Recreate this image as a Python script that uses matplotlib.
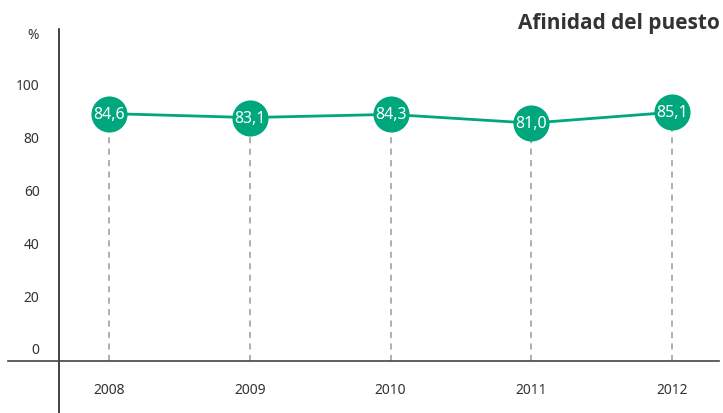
import matplotlib
matplotlib.use("Agg")
import matplotlib.pyplot as plt
import matplotlib.transforms as mtransforms

# Data
years = [2008, 2009, 2010, 2011, 2012]
afinidad = [84.6, 83.1, 84.3, 81.0, 85.1]
afinidad_labels = ["84,6", "83,1", "84,3", "81,0", "85,1"]
y_ticks = [0, 20, 40, 60, 80, 100]

green = "#00a77d"
text_col = "#333333"
num_font = "Noto Sans"

fig = plt.figure(figsize=(7.23, 4.14), dpi=100)
ax = fig.add_axes([0, 0, 1, 1])
ax.set_facecolor("none")

# pixel-matched limits
ax.set_xlim(2007.2256, 2012.3623)
ax.set_ylim(-28.8, 128.0)

x_axis_at = 2007.645
y_axis_at = -9.1

# dashed drop lines
ax.vlines(years, y_axis_at, afinidad, colors="#9a9a9a", linestyles=(0, (4, 3.5)), linewidth=1.1, zorder=1)

# line + markers
ax.plot(years, afinidad, color=green, linewidth=2.0, zorder=2)
ax.plot(years, afinidad, "o", color=green, markersize=26, markeredgewidth=0, zorder=3)
for x, y, lab in zip(years, afinidad, afinidad_labels):
    ax.text(x, y, lab, color="white", fontsize=11.5, family=num_font,
            ha="center", va="center", zorder=4)

# axes lines
for s in ["top", "right"]:
    ax.spines[s].set_visible(False)
ax.spines["left"].set_position(("data", x_axis_at))
ax.spines["bottom"].set_position(("data", y_axis_at))
ax.spines["left"].set_bounds(-28.8, 116.7)
ax.spines["bottom"].set_bounds(2007.2825, 2012.3339)
ax.spines["left"].set_color("#222222")
ax.spines["bottom"].set_color("#444444")
ax.spines["left"].set_linewidth(1.2)
ax.spines["bottom"].set_linewidth(1.2)

ax.set_xticks(years)
ax.set_xticklabels([str(y) for y in years])
ax.set_yticks(y_ticks)
ax.set_yticklabels([str(v) for v in y_ticks])
ax.tick_params(axis="x", length=0, pad=15, labelsize=10, labelcolor=text_col)
ax.tick_params(axis="y", length=0, pad=14, labelsize=10, labelcolor=text_col)
for lbl in ax.get_xticklabels() + ax.get_yticklabels():
    lbl.set_family(num_font)

# y labels sit a bit below their values in the original
offset = mtransforms.ScaledTranslation(0, -0.11, fig.dpi_scale_trans)
for lbl in ax.get_yticklabels():
    lbl.set_transform(lbl.get_transform() + offset)

fig.text(33 / 723, 1 - 36 / 414, "%", fontsize=10, family=num_font, color=text_col,
         ha="center", va="center")
fig.text(720 / 723, 1 - 24 / 414, "Afinidad del puesto", fontsize=15, fontweight="bold",
         family="Open Sans", color=text_col, ha="right", va="center")

fig.savefig("out.png", dpi=100)
